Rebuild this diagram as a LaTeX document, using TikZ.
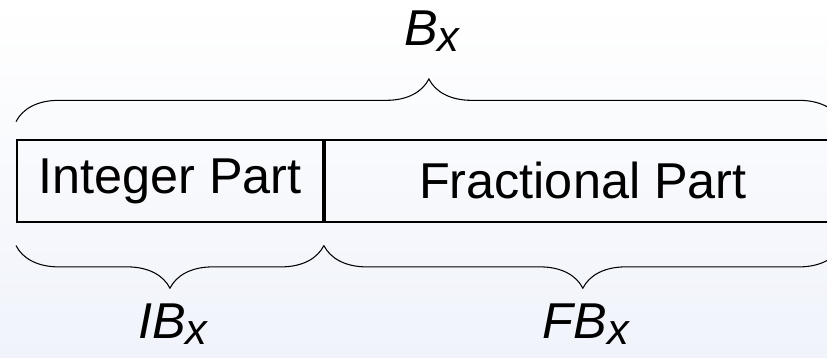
\documentclass[tikz,border=0pt]{standalone}
\usepackage{fontspec}
\setmainfont{Liberation Sans}
\usetikzlibrary{decorations.pathreplacing}

\definecolor{bgbottom}{RGB}{240,243,250}

% large lowered subscript x
\newcommand\lowx{\raisebox{-0.2cm}{\fontsize{37}{40}\selectfont x}}

\tikzset{
  part/.style={draw, line width=1.6pt, anchor=north west, minimum height=2.46cm,
    inner sep=0pt, font=\fontsize{43}{46}\selectfont},
  span/.style={decorate, decoration={brace, amplitude=1.28cm}, line width=0.9pt},
  width label/.style={anchor=base, inner sep=0pt, font=\fontsize{43}{46}\selectfont\itshape}
}

\begin{document}
\begin{tikzpicture}[x=0.03cm, y=-0.03cm]
  % page = 827 x 357 px, y grows downwards
  \clip (0,0) rectangle (827,357);
  \shade[top color=white, bottom color=bgbottom] (0,0) rectangle (827,357);

  % the word, cut by the right edge
  \node[part, minimum width=9.18cm] (int) at (16,139) {Integer Part};
  \node[part, minimum width=15.48cm] (frac) at (int.north east) {Fractional Part};

  % braces
  \draw[span] ([yshift=0.52cm]int.north west) -- ([yshift=0.52cm]frac.north east);
  \draw[span] ([yshift=-0.68cm]int.south east) -- ([yshift=-0.68cm]int.south west);
  \draw[span] ([yshift=-0.68cm]frac.south east) -- ([yshift=-0.68cm]frac.south west);

  % widths
  \node[width label] (bx) at (432,45) {B\lowx};
  \node[width label] (ibx) at (173,338) {IB\lowx};
  \node[width label] (fbx) at (586,338) {FB\lowx};
\end{tikzpicture}
\end{document}
